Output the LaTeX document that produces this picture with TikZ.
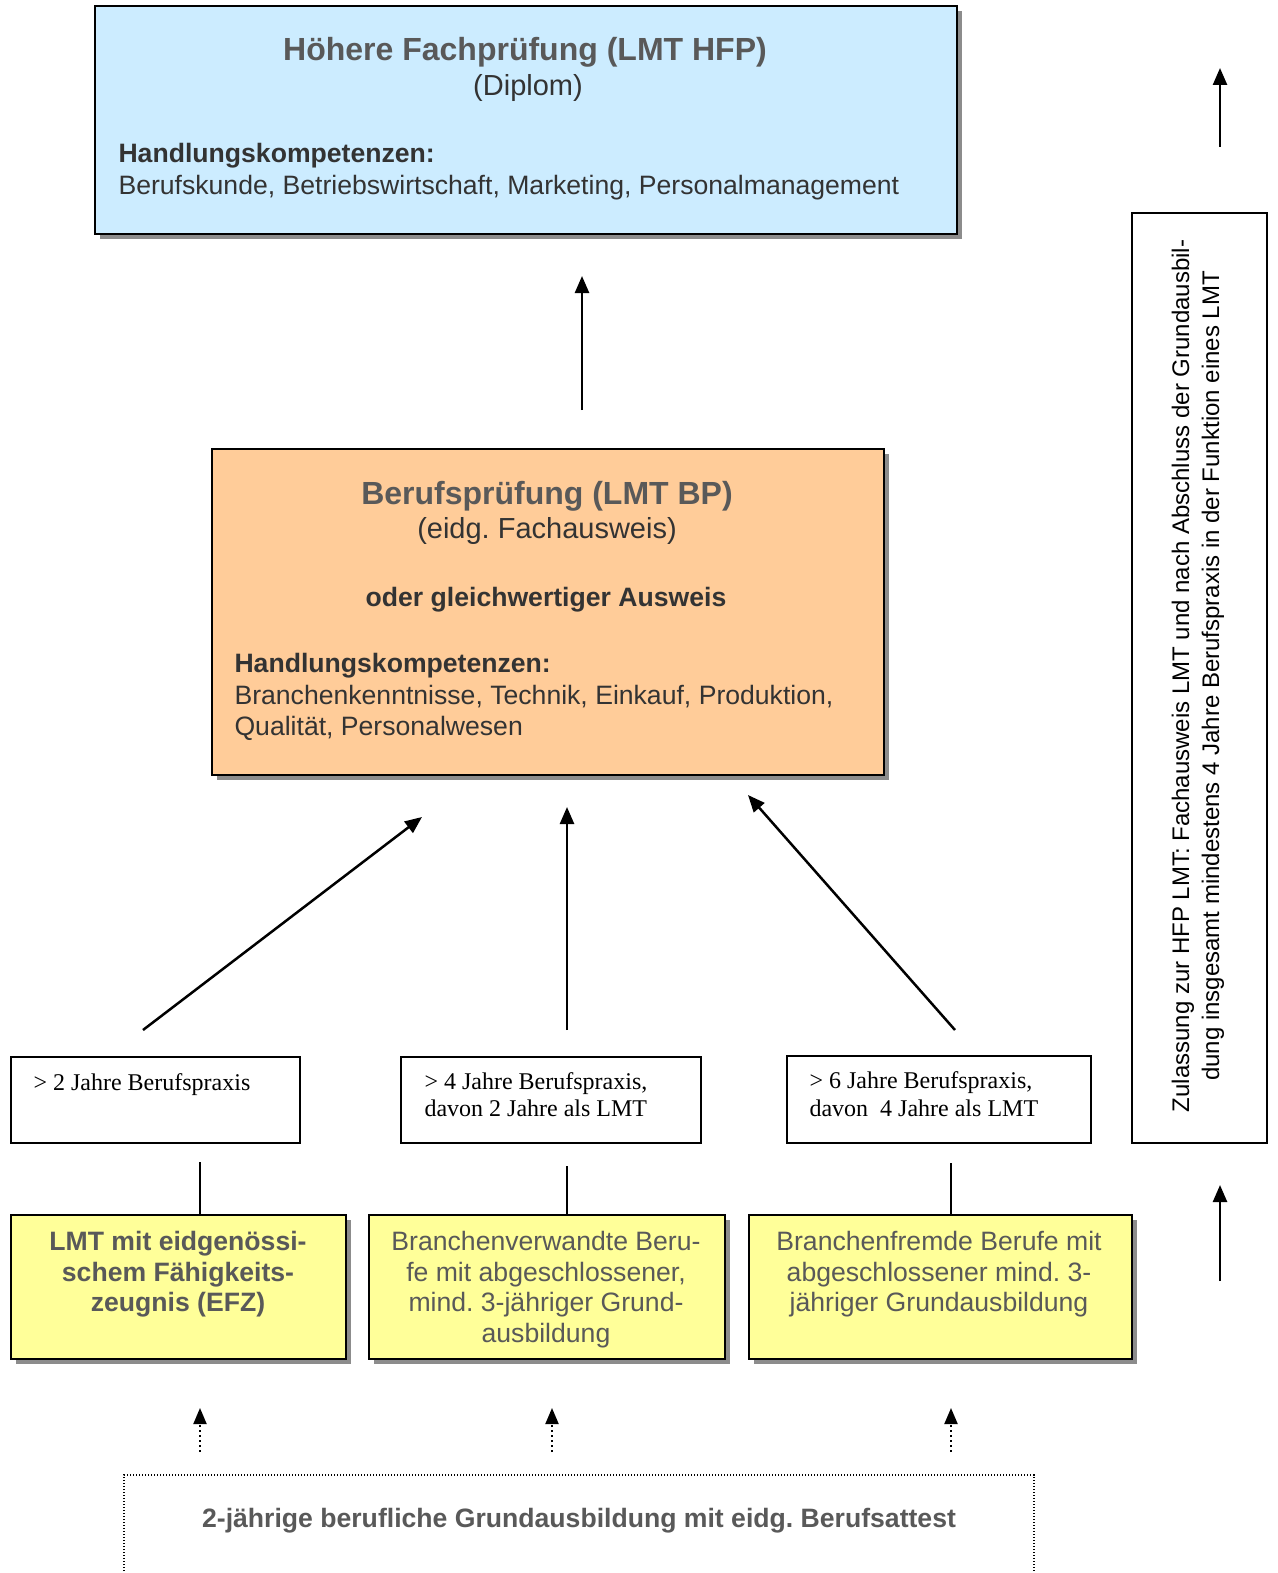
\documentclass[tikz,border=0pt]{standalone}
\usepackage{fontspec}
\setmainfont{Liberation Sans}
\newfontfamily\timesf{Liberation Serif}
\usetikzlibrary{arrows.meta,shadows}
\definecolor{hfpblue}{HTML}{CCECFF}
\definecolor{bppeach}{HTML}{FFCC99}
\definecolor{yel}{HTML}{FFFF99}
\definecolor{headgray}{HTML}{595959}
\definecolor{bodydark}{HTML}{333333}
\frenchspacing
\begin{document}
\begin{tikzpicture}[x=1pt,y=-1pt,
  box/.style={draw=black, line width=2pt, inner sep=0pt, anchor=north west},
  shad/.style={drop shadow={shadow xshift=5pt,shadow yshift=-5pt,fill=black!45,opacity=1}},
  arr/.style={line width=2.5pt,-{Triangle[width=14pt,length=17pt]}},
  darr/.style={line width=2pt,dash pattern=on 2pt off 3pt,-{Triangle[width=13pt,length=16pt]}},
  conn/.style={line width=2pt},
  head/.style={anchor=base, text=headgray, font=\bfseries\fontsize{32}{38}\selectfont},
  sub/.style={anchor=base, text=bodydark, font=\fontsize{29}{34}\selectfont},
  bhead/.style={anchor=base west, text=bodydark, font=\bfseries\fontsize{26.6}{31}\selectfont},
  btext/.style={anchor=base west, text=bodydark, font=\fontsize{26.6}{31}\selectfont},
  stext/.style={anchor=base west, text=black, font=\timesf\fontsize{24}{28}\selectfont},
  ytext/.style={anchor=base, text=headgray, font=\fontsize{26.6}{31}\selectfont},
  ybtext/.style={anchor=base, text=headgray, font=\bfseries\fontsize{26.6}{31}\selectfont}
]
\useasboundingbox (0,0) rectangle (1277,1573);

% top box
\node[box, shad, fill=hfpblue, minimum width=862pt, minimum height=228pt] (hfp) at (94,5) {};
\node[head] (hfpt) at (525,61) {Höhere Fachprüfung (LMT HFP)};
\node[sub] (hfps) at (528,96) {(Diplom)};
\node[bhead] (hfph) at (115,163) {Handlungskompetenzen:};
\node[btext] (hfpl) at (115,194) {Berufskunde, Betriebswirtschaft, Marketing, Personalmanagement};

% middle box
\node[box, shad, fill=bppeach, minimum width=672pt, minimum height=326pt] (bp) at (211,448) {};
\node[head] (bpt) at (547,504) {Berufsprüfung (LMT BP)};
\node[sub] (bps) at (547,538) {(eidg. Fachausweis)};
\node[anchor=base, text=bodydark, font=\bfseries\fontsize{26.6}{31}\selectfont] (bpo) at (546,606) {oder gleichwertiger Ausweis};
\node[bhead] (bph) at (231,672) {Handlungskompetenzen:};
\node[btext] (bpl1) at (231,704) {Branchenkenntnisse, Technik, Einkauf, Produktion,};
\node[btext] (bpl2) at (231,735) {Qualität, Personalwesen};

% arrow BP -> HFP
\coordinate (a0s) at (582,410);
\coordinate (a0e) at (582,276);
\draw[arr] (a0s) -- (a0e);

% practice boxes
\node[box, minimum width=289pt, minimum height=86pt] (p1) at (10,1056) {};
\node[stext] (p1t) at (30,1090) {> 2 Jahre Berufspraxis};
\node[box, minimum width=300pt, minimum height=86pt] (p2) at (400,1056) {};
\node[stext] (p2t) at (421,1089) {> 4 Jahre Berufspraxis,};
\node[stext] (p2u) at (421,1116) {davon 2 Jahre als LMT};
\node[box, minimum width=304pt, minimum height=87pt] (p3) at (786,1055) {};
\node[stext] (p3t) at (806,1088) {> 6 Jahre Berufspraxis,};
\node[stext] (p3u) at (806,1116) {davon\ \ 4 Jahre als LMT};

% arrows to BP
\coordinate (a1s) at (143,1030); \coordinate (a1e) at (422,817);
\coordinate (a2s) at (567,1030); \coordinate (a2e) at (567,807);
\coordinate (a3s) at (955,1030); \coordinate (a3e) at (748,795);
\draw[arr] (a1s) -- (a1e);
\draw[arr] (a2s) -- (a2e);
\draw[arr] (a3s) -- (a3e);

% yellow boxes
\node[box, shad, fill=yel, minimum width=335pt, minimum height=144pt] (y1) at (10,1214) {};
\node[box, shad, fill=yel, minimum width=356pt, minimum height=144pt] (y2) at (368,1214) {};
\node[box, shad, fill=yel, minimum width=383pt, minimum height=144pt] (y3) at (748,1214) {};
\node[ybtext] (y1a) at (178,1250) {LMT mit eidgenössi-};
\node[ybtext] (y1b) at (178,1281) {schem Fähigkeits-};
\node[ybtext] (y1c) at (178,1311) {zeugnis (EFZ)};
\node[ytext] (y2a) at (546,1250) {Branchenverwandte Beru-};
\node[ytext] (y2b) at (546,1281) {fe mit abgeschlossener,};
\node[ytext] (y2c) at (546,1311) {mind. 3-jähriger Grund-};
\node[ytext] (y2d) at (546,1342) {ausbildung};
\node[ytext] (y3a) at (939,1250) {Branchenfremde Berufe mit};
\node[ytext] (y3b) at (939,1281) {abgeschlossener mind. 3-};
\node[ytext] (y3c) at (939,1311) {jähriger Grundausbildung};

% connectors practice -> yellow
\coordinate (c1) at (200,1162); \draw[conn] (c1) -- (y1.north west -| c1);
\coordinate (c2) at (567,1166); \draw[conn] (c2) -- (y2.north west -| c2);
\coordinate (c3) at (951,1163); \draw[conn] (c3) -- (y3.north west -| c3);

% dotted arrows
\coordinate (d1s) at (200,1452); \coordinate (d1e) at (200,1408);
\coordinate (d2s) at (552,1452); \coordinate (d2e) at (552,1408);
\coordinate (d3s) at (951,1452); \coordinate (d3e) at (951,1408);
\draw[darr] (d1s) -- (d1e);
\draw[darr] (d2s) -- (d2e);
\draw[darr] (d3s) -- (d3e);

% bottom dotted box
\draw[line width=1.2pt, dash pattern=on 1.2pt off 1.8pt] (124,1580) -- (124,1475) -- (1034,1475) -- (1034,1580);
\node[anchor=base, text=headgray, font=\bfseries\fontsize{26.6}{31}\selectfont] (att) at (579,1527) {2-jährige berufliche Grundausbildung mit eidg. Berufsattest};

% right box
\node[box, minimum width=135pt, minimum height=930pt] (zul) at (1131,212) {};
\node[rotate=90, align=center, text=black, font=\fontsize{24}{30}\selectfont] (zult) at (1198,676) {Zulassung zur HFP LMT: Fachausweis LMT und nach Abschluss der Grundausbil-\\dung insgesamt mindestens 4 Jahre Berufspraxis in der Funktion eines LMT};

% right arrows
\coordinate (r1s) at (1220,147); \coordinate (r1e) at (1220,68);
\coordinate (r2s) at (1220,1281); \coordinate (r2e) at (1220,1185);
\draw[arr] (r1s) -- (r1e);
\draw[arr] (r2s) -- (r2e);
\end{tikzpicture}
\end{document}
